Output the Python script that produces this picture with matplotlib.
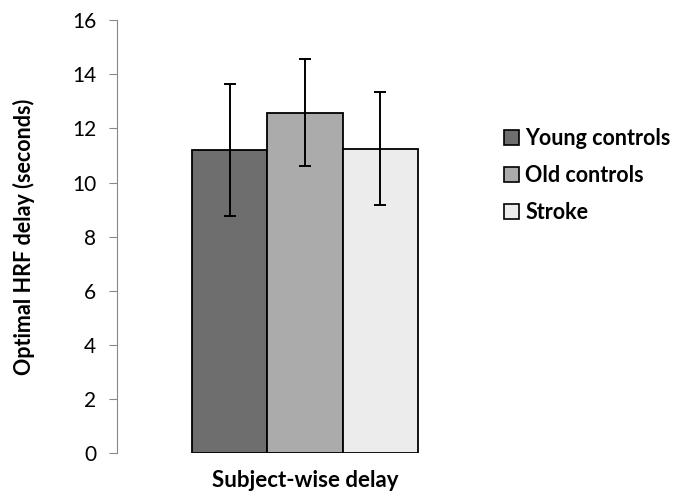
import matplotlib
matplotlib.use('Agg')
import matplotlib.pyplot as plt
from matplotlib.patches import Patch

# values
groups = ['Young controls', 'Old controls', 'Stroke']
delay = [11.2, 12.58, 11.25]
err = [2.43, 1.97, 2.08]
colors = ['#6e6e6e', '#ababab', '#ececec']

plt.rcParams['font.family'] = ['Lato', 'DejaVu Sans']

fig = plt.figure(figsize=(6.88, 4.93), dpi=100)
ax = fig.add_axes([0.170, 0.081, 0.547, 0.878])

x = [-1, 0, 1]
ax.bar(x, delay, width=1.0, color=colors, edgecolor='black', linewidth=1.3,
       yerr=err, capsize=4, error_kw=dict(elinewidth=1.4, capthick=1.4, ecolor='black'))

ax.set_xlim(-2.5, 2.5)
ax.set_ylim(0, 16)
ax.set_yticks(range(0, 17, 2))
ax.set_xticks([])
for s in ['top', 'right', 'bottom']:
    ax.spines[s].set_visible(False)
ax.spines['left'].set_color('#888888')
ax.tick_params(axis='y', colors='#888888', labelcolor='black', labelsize=15, length=6, pad=9)

ax.set_ylabel('Optimal HRF delay (seconds)', fontsize=15.5, fontweight='bold')
ax.yaxis.set_label_coords(-0.218, 0.5)
ax.set_xlabel('Subject-wise delay', fontsize=16, fontweight='bold')
ax.xaxis.set_label_coords(0.5, -0.04)

handles = [Patch(facecolor=c, edgecolor='black', linewidth=1.2) for c in colors]
fig.legend(handles, groups, loc='upper left', bbox_to_anchor=(0.704, 0.78), frameon=False,
           prop=dict(size=15.5, weight='bold'), handlelength=0.7, handleheight=0.7,
           handletextpad=0.3, labelspacing=0.75)

fig.savefig('out.png', dpi=100)
